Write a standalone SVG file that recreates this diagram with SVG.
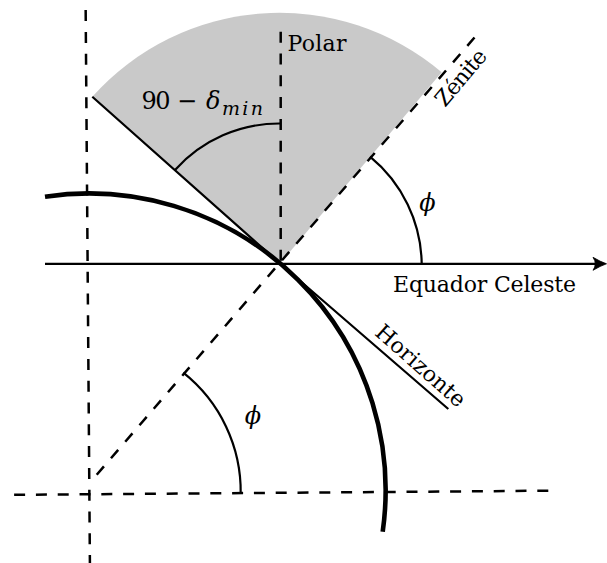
<svg xmlns="http://www.w3.org/2000/svg" width="607" height="563" viewBox="0 0 607 563">
<style>
.dash{fill:none;stroke:#000;stroke-width:2.5;stroke-dasharray:11 10.8}
.thin{fill:none;stroke:#000;stroke-width:2.2}
.thick{fill:none;stroke:#000;stroke-width:4.6}
.lbl{font-family:"DejaVu Serif","Liberation Serif",serif;font-size:22px;fill:#000}
.math{font-family:"DejaVu Serif","Liberation Serif",serif;font-size:24px;fill:#000}
.it{font-style:italic}
</style>
<defs>
<marker id="arr" viewBox="-15 -8 16 16" refX="-3.5" refY="0" markerWidth="16" markerHeight="16" markerUnits="userSpaceOnUse" orient="auto">
<path d="M0,0 Q-6,-2 -13.5,-6.5 Q-9,0 -13.5,6.5 Q-6,2 0,0 Z" fill="#000" stroke="#000" stroke-width="0.8"/>
</marker>
</defs>
<g id="sector">
<path d="M280,263.5 L92.3,96.7 A251,251 0 0 1 441.7,72.3 Z" fill="#c9c9c9"/>
</g>
<g id="connectors">
<line class="dash" x1="85.5" y1="-11.7" x2="89.9" y2="563"/>
<line class="dash" x1="548.3" y1="490.7" x2="10" y2="494.9"/>
<line class="dash" x1="474.5" y1="37.5" x2="90" y2="482.5"/>
<line class="dash" x1="280.7" y1="31.7" x2="280.7" y2="263.5"/>
<line class="thin" x1="45" y1="263.8" x2="603" y2="263.8" marker-end="url(#arr)"/>
<path class="thin" d="M92.3,96.7 L280,263.5 L448.3,409"/>
<path class="thin" d="M175,170 A140,140 0 0 1 280.7,123.5"/>
<path class="thin" d="M370,156.7 A141,141 0 0 1 421.7,263.8"/>
<path class="thin" d="M183.3,372.7 A152,152 0 0 1 240.7,494"/>
</g>
<g id="sphere">
<path class="thick" d="M45,196.7 A296.8,296.8 0 0 1 382.7,531.7"/>
</g>
<g id="polar"><text class="lbl" x="287.5" y="50.5" textLength="59">Polar</text></g>
<g id="equador"><text class="lbl" x="393" y="291.5" textLength="183">Equador Celeste</text></g>
<g id="zenite"><text class="lbl" transform="translate(445,108) rotate(-50)" textLength="67">Zénite</text></g>
<g id="horizonte"><text class="lbl" transform="translate(373.8,334.2) rotate(41.4)" textLength="112">Horizonte</text></g>
<g id="angle-delta">
<text class="math" x="141.5" y="108.5" textLength="29">90</text>
<text class="math" x="177" y="108.5" textLength="21">−</text>
<text class="math it" x="206" y="108.5">δ</text>
<text class="math it" x="222" y="115" style="font-size:19px" textLength="41">min</text>
</g>
<g id="phi-upper"><text class="math it" x="427.5" y="211" text-anchor="middle">ϕ</text></g>
<g id="phi-lower"><text class="math it" x="253" y="424" text-anchor="middle">ϕ</text></g>
</svg>
